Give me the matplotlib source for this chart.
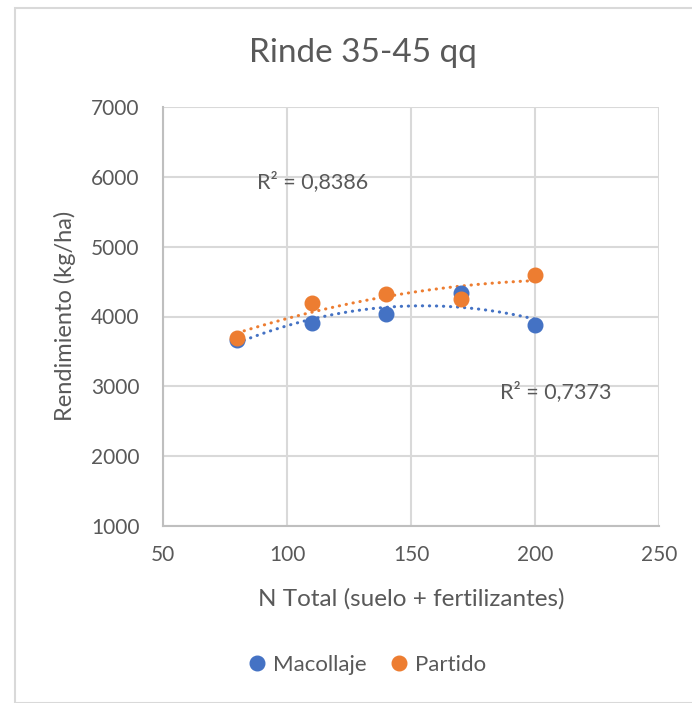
import numpy as np
import matplotlib.pyplot as plt
import matplotlib.patches as patches
from matplotlib.lines import Line2D

# N total (soil + fertiliser) and yields for each application timing
n_total = [80, 110, 140, 170, 200]
macollaje = [3670, 3900, 4030, 4330, 3880]
partido = [3690, 4200, 4320, 4250, 4600]
r2_labels = ["R² = 0,8386", "R² = 0,7373"]

BLUE = "#4472C4"
ORANGE = "#ED7D31"
TEXT = "#595959"
GRID = "#D9D9D9"

plt.rcParams['font.family'] = ['Lato', 'DejaVu Sans']

fig = plt.figure(figsize=(6.92, 7.03), dpi=100)
W, H = 692, 703

# Chart frame
frame = patches.Rectangle((15 / W, 0), 1, 1 - 8 / H, transform=fig.transFigure,
                          fill=False, edgecolor=GRID, linewidth=1.5)
fig.patches.append(frame)

ax = fig.add_axes([163 / W, 1 - 526 / H, (659 - 163) / W, (526 - 107) / H])
ax.set_xlim(50, 250)
ax.set_ylim(1000, 7000)
ax.set_xticks(range(50, 251, 50))
ax.set_yticks(range(1000, 7001, 1000))
ax.grid(True, color=GRID, linewidth=1.5)
ax.set_axisbelow(True)
for side in ['top', 'right']:
    ax.spines[side].set_visible(False)
for side in ['left', 'bottom']:
    ax.spines[side].set_color("#BFBFBF")
    ax.spines[side].set_linewidth(1.5)
ax.tick_params(length=0, labelsize=15, colors=TEXT)
ax.tick_params(axis='y', pad=17)
ax.tick_params(axis='x', pad=14)

# Second-order polynomial trendlines
xs = np.linspace(min(n_total), max(n_total), 200)
for y, c in [(macollaje, BLUE), (partido, ORANGE)]:
    coef = np.polyfit(n_total, y, 2)
    ax.plot(xs, np.polyval(coef, xs), color=c, linewidth=2.2,
            linestyle=(0, (0.1, 2.2)), dash_capstyle='round', zorder=2)

ax.plot(n_total, macollaje, 'o', color=BLUE, markersize=10.5, zorder=3)
ax.plot(n_total, partido, 'o', color=ORANGE, markersize=10.5, zorder=4)

ax.text(88, 5930, r2_labels[0], fontsize=15.5, color=TEXT, va='center')
ax.text(186, 2920, r2_labels[1], fontsize=15.5, color=TEXT, va='center')

fig.text(363 / W, 1 - 53 / H, "Rinde 35-45 qq", fontsize=24, color=TEXT,
         ha='center', va='center')
ax.set_xlabel("N Total (suelo + fertilizantes)", fontsize=17.5, color=TEXT)
ax.set_ylabel("Rendimiento (kg/ha)", fontsize=17, color=TEXT)
ax.xaxis.set_label_coords(411 / W, 1 - 599 / H, transform=fig.transFigure)
ax.yaxis.set_label_coords(65 / W, 1 - 316 / H, transform=fig.transFigure)
ax.xaxis.label.set_va('center')
ax.yaxis.label.set_va('center')

handles = [Line2D([], [], marker='o', linestyle='', color=BLUE, markersize=10.5),
           Line2D([], [], marker='o', linestyle='', color=ORANGE, markersize=10.5)]
fig.legend(handles, ["Macollaje", "Partido"], loc='center', ncol=2,
           bbox_to_anchor=(366 / W, 1 - 665 / H), frameon=False,
           fontsize=16, labelcolor=TEXT, handlelength=1.0, handletextpad=0.2,
           columnspacing=1.0)

fig.savefig("out.png", dpi=100)
